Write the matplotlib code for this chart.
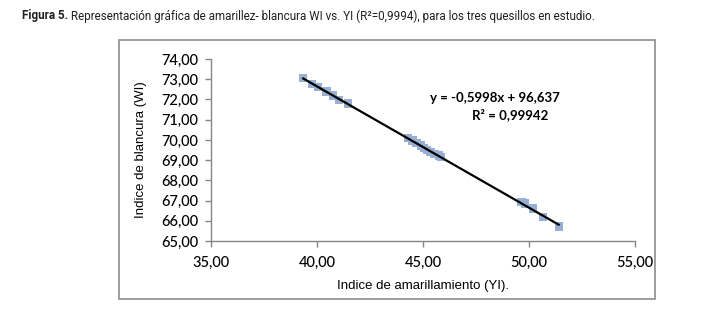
import matplotlib
matplotlib.use("Agg")
import matplotlib.pyplot as plt
from matplotlib.patches import Rectangle
from matplotlib.ticker import FuncFormatter, MultipleLocator
import numpy as np

# Data
yi = [39.35, 39.75, 40.05, 40.45, 40.75, 41.05, 41.45,
      44.30, 44.50, 44.70, 44.90, 45.05, 45.20, 45.35, 45.55, 45.75, 45.85,
      49.65, 49.80, 50.20, 50.65, 51.40]
wi = [73.05, 72.78, 72.62, 72.40, 72.20, 71.98, 71.80,
      70.10, 69.97, 69.84, 69.72, 69.60, 69.50, 69.40, 69.30, 69.22, 69.16,
      66.92, 66.85, 66.60, 66.20, 65.72]
slope = -0.5998
intercept = 96.637
trend_x = [39.35, 51.40]
eq_text = "y = -0,5998x + 96,637"
r2_text = "R² = 0,99942"
title_bold = "Figura 5."
title_rest = " Representación gráfica de amarillez- blancura WI vs. YI (R²=0,9994), para los tres quesillos en estudio."
xlabel = "Indice de amarillamiento (YI)."
ylabel = "Indice de blancura (WI)"

W, H = 701, 319
fig = plt.figure(figsize=(W / 100, H / 100), dpi=100)

# chart border
fig.patches.append(Rectangle((119 / W, 1 - 299 / H), (655 - 119) / W, (299 - 40) / H,
                             transform=fig.transFigure, fill=False,
                             edgecolor="#8c8c8c", linewidth=1.2))

ax = fig.add_axes([211 / W, 1 - 241 / H, (635 - 211) / W, (241 - 59) / H])
ax.set_xlim(35, 55)
ax.set_ylim(65, 74)
ax.xaxis.set_major_locator(MultipleLocator(5))
ax.yaxis.set_major_locator(MultipleLocator(1))
fmt = FuncFormatter(lambda v, p: f"{v:.2f}".replace(".", ","))
ax.xaxis.set_major_formatter(fmt)
ax.yaxis.set_major_formatter(fmt)

for s in ["top", "right"]:
    ax.spines[s].set_visible(False)
for s in ["left", "bottom"]:
    ax.spines[s].set_color("#868686")
    ax.spines[s].set_linewidth(1.0)
ax.tick_params(axis="both", direction="out", length=4, width=1.0, color="#868686",
               labelsize=10.5)
ax.tick_params(axis="x", pad=7)
ax.tick_params(axis="y", pad=5)
for lab in ax.get_xticklabels() + ax.get_yticklabels():
    lab.set_family(["Lato", "DejaVu Sans"])
    lab.set_fontweight("medium")

ax.scatter(yi, wi, marker="s", s=36, color="#97afd3", edgecolors="none", zorder=2)
tx = np.array(trend_x)
ax.plot(tx, slope * tx + intercept, color="black", linewidth=1.6, zorder=3)

ax.set_xlabel(xlabel, fontsize=9.5, family=["Liberation Sans", "DejaVu Sans"], labelpad=7)
ax.set_ylabel(ylabel, fontsize=9.5, family=["Liberation Sans", "DejaVu Sans"], labelpad=10)

fig.text(495 / W, 1 - 98 / H, eq_text, ha="center", va="center", fontsize=9.5,
         fontweight="bold", family=["Lato", "DejaVu Sans"])
fig.text(510 / W, 1 - 115 / H, r2_text, ha="center", va="center", fontsize=9.5,
         fontweight="bold", family=["Lato", "DejaVu Sans"])

# title
tfam = ["Roboto", "DejaVu Sans"]
t1 = fig.text(22 / W, 1 - 16 / H, title_bold, ha="left", va="center", fontsize=8.4,
              fontweight="bold", family=tfam, color="#231f20")
fig.canvas.draw()
r = fig.canvas.get_renderer()
bb = t1.get_window_extent(renderer=r)
fig.text(bb.x1 / W, 1 - 16 / H, title_rest, ha="left", va="center", fontsize=8.4,
         family=tfam, color="#231f20")

fig.savefig("out.png", dpi=100)
